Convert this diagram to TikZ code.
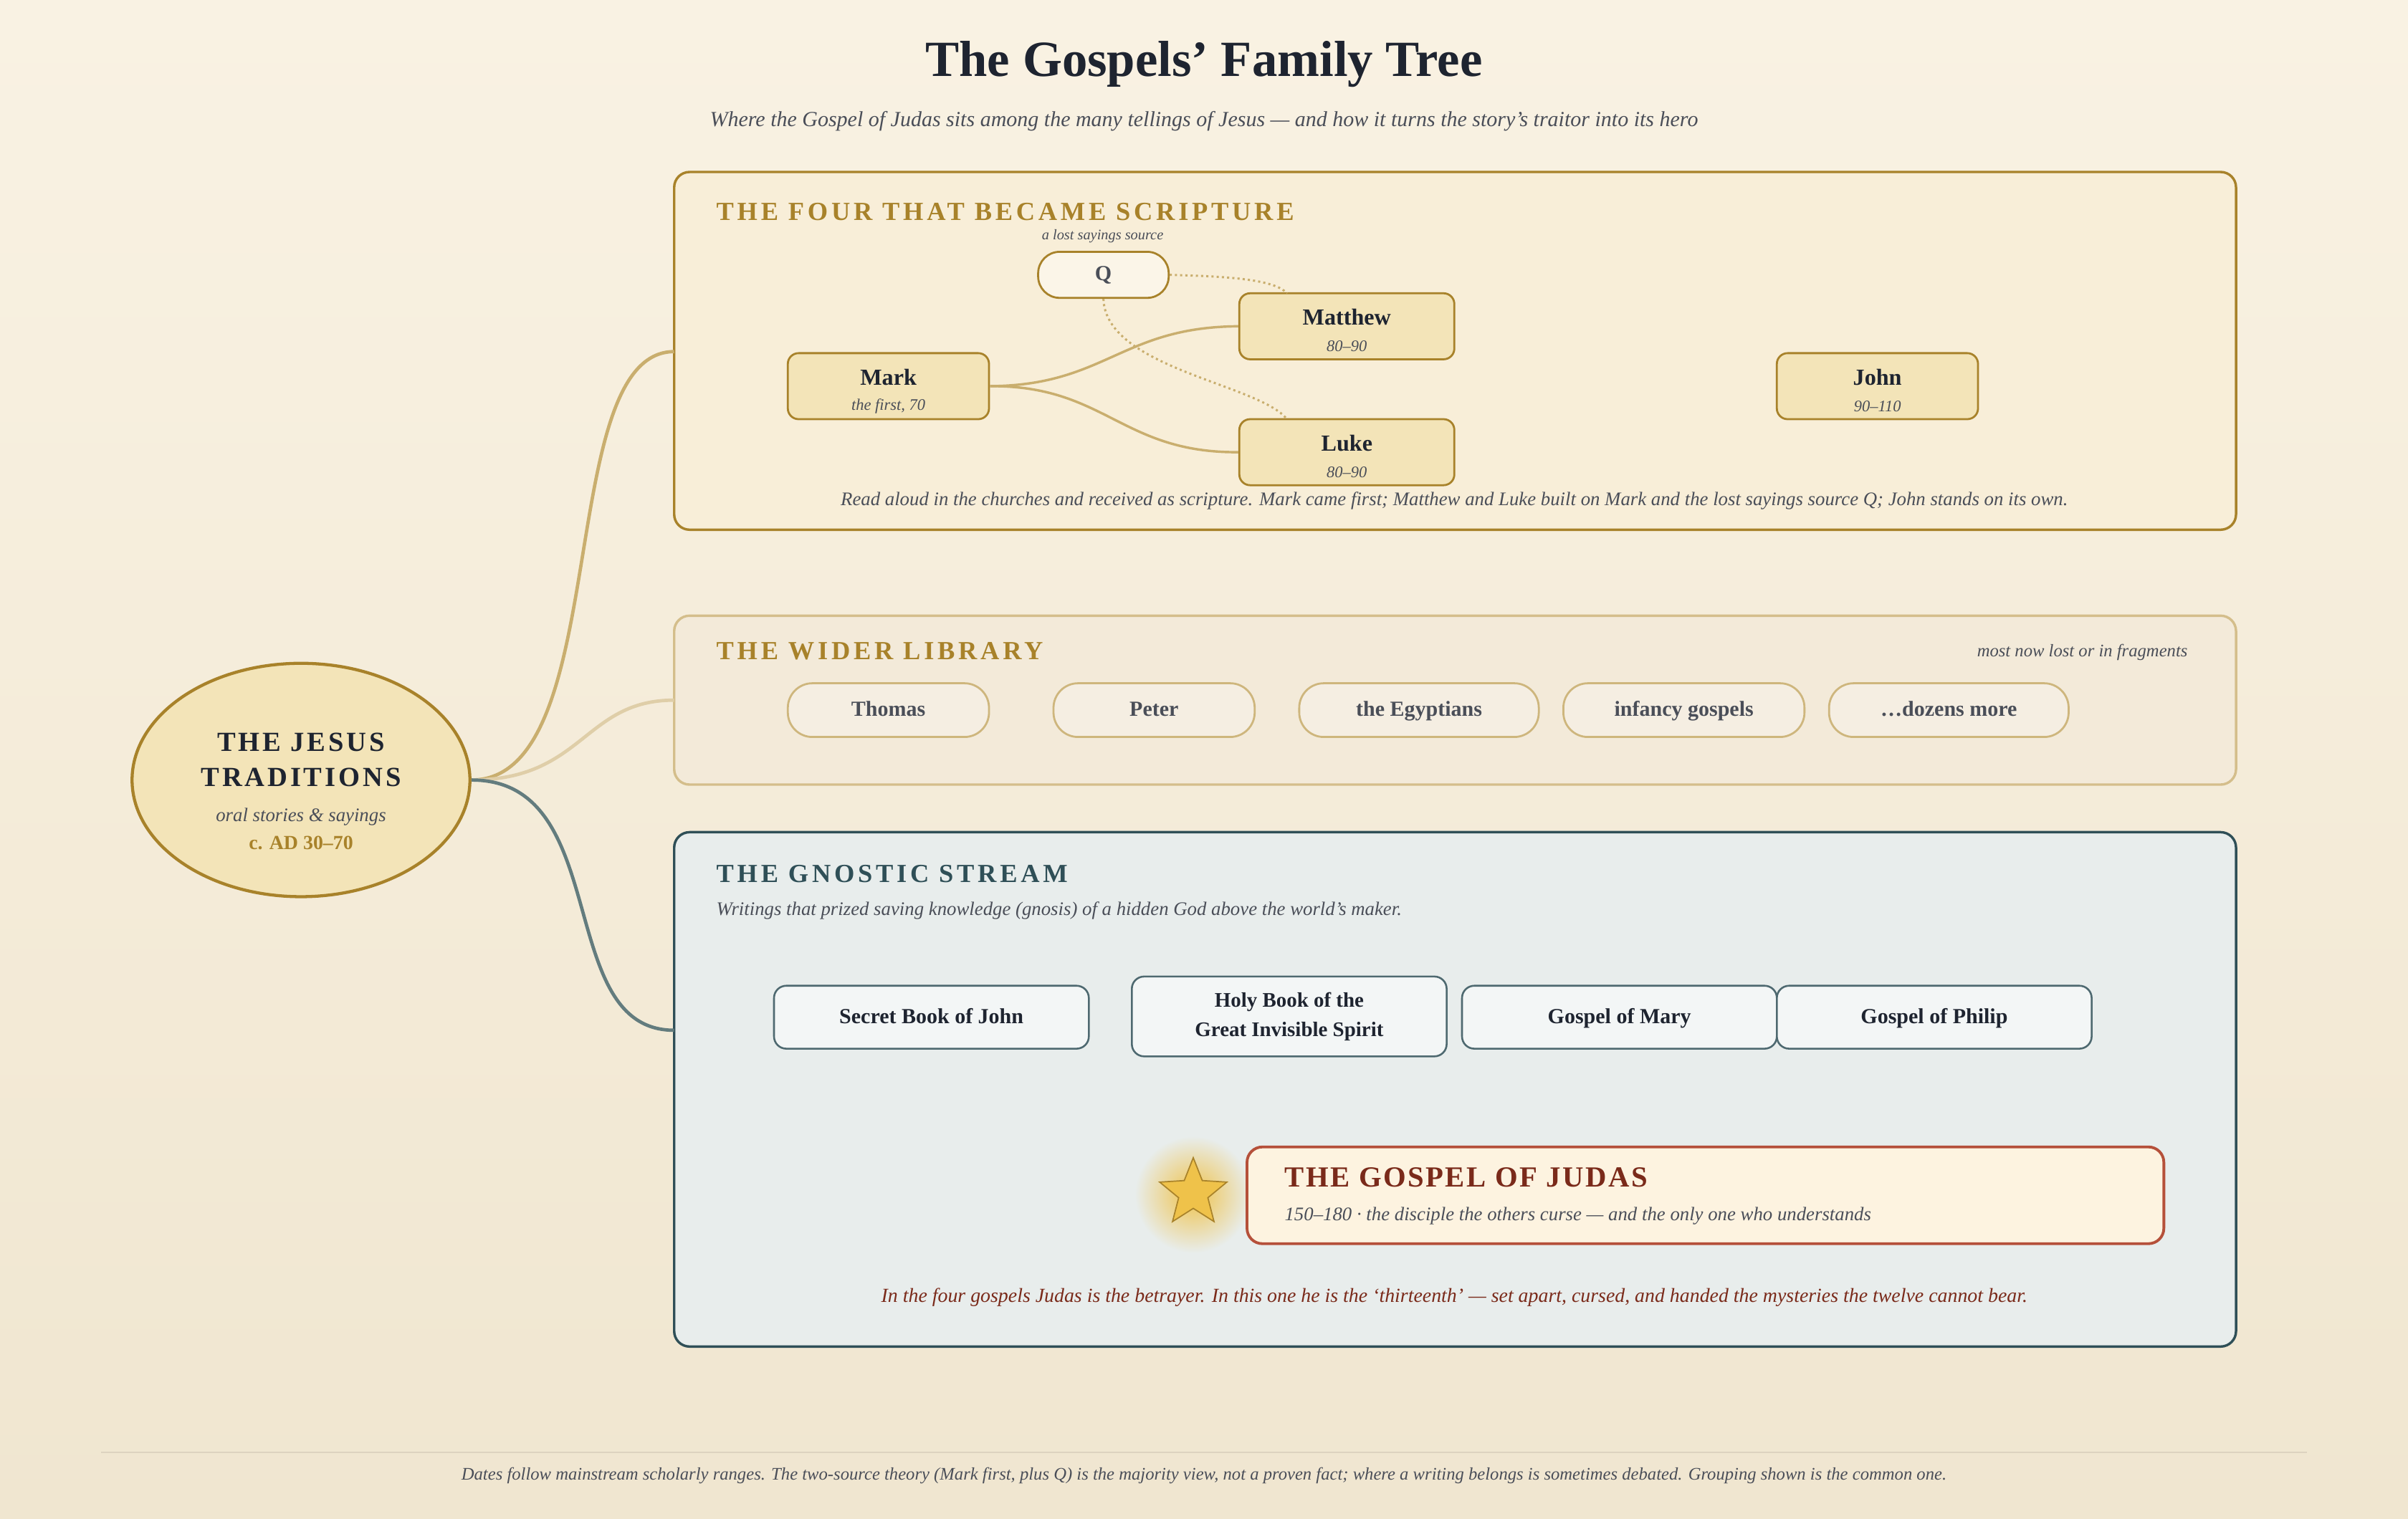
\documentclass[tikz,border=0pt]{standalone}
\usepackage{fontspec}
\setmainfont{Liberation Serif}
\usetikzlibrary{shapes.geometric,shadings}
\definecolor{gold}{HTML}{A8822A}
\definecolor{goldl}{HTML}{C9AE6E}
\definecolor{ink}{HTML}{1E2430}
\definecolor{teal}{HTML}{2F4F57}
\definecolor{slate}{HTML}{637C7E}
\definecolor{rust}{HTML}{B5503A}
\definecolor{wine}{HTML}{7A2A1A}
\definecolor{grey}{HTML}{4A4E58}
\definecolor{HTML-F3E4B8}{HTML}{F3E4B8}
\definecolor{HTML-F5EEE2}{HTML}{F5EEE2}
\definecolor{HTML-F3F6F6}{HTML}{F3F6F6}
\definecolor{HTML-F9EFD9}{HTML}{F8EED8}
\definecolor{HTML-F3EAD9}{HTML}{F3EAD9}
\definecolor{HTML-E8EDEC}{HTML}{E8EDEC}
\definecolor{HTML-F0C850}{HTML}{EFC24A}
\definecolor{HTML-FDF3E0}{HTML}{FDF3E0}
\definecolor{HTML-DDD3C0}{HTML}{DDD3C0}
\definecolor{bgtop}{HTML}{F9F2E3}
\definecolor{bgbot}{HTML}{F0E6D0}
\tikzset{
 x=1pt,y=-1pt,
 box/.style={draw,rounded corners=10pt,line width=1.6pt},
 goldnode/.style={draw=gold,fill=HTML-F3E4B8,rounded corners=7pt,line width=1.3pt,align=center},
 one/.style={text height=1.7ex,text depth=0ex},
 pill/.style={draw=goldl!90!white,fill=HTML-F5EEE2,rounded corners=16pt,line width=1.3pt,font=\fontsize{14}{16}\selectfont\bfseries,text=grey,one},
 gnode/.style={draw=teal!85,fill=HTML-F3F6F6,rounded corners=8pt,line width=1.2pt,font=\fontsize{14}{16}\selectfont\bfseries,text=ink,align=center},
 head/.style={anchor=west,font=\fontsize{17}{19}\selectfont\bfseries\addfontfeatures{LetterSpace=13}},
 note/.style={font=\fontsize{12.5}{14}\selectfont\itshape,text=grey},
}
\begin{document}
\begin{tikzpicture}
\shade[top color=bgtop,bottom color=bgbot] (0,0) rectangle (1568,989);
\useasboundingbox (0,0) rectangle (1568,989);
\node[font=\fontsize{33}{38}\selectfont\bfseries,text=ink] (title) at (784,42) {The Gospels' Family Tree};
\node[note,font=\fontsize{14}{16}\selectfont\itshape] (sub) at (784,79) {Where the Gospel of Judas sits among the many tellings of Jesus — and how it turns the story's traitor into its hero};
% box 1
\draw[box,draw=gold,fill=HTML-F9EFD9] (439,112) rectangle (1456,345);
\node[head,text=gold] (h1) at (463,138) {THE FOUR THAT BECAME SCRIPTURE};
\node[note,font=\fontsize{9.5}{11}\selectfont\itshape] (qlab) at (718,154) {a lost sayings source};
\node[draw=gold,fill=HTML-F9EFD9!60!white,rounded corners=14pt,line width=1.3pt,minimum width=85pt,minimum height=30pt,font=\fontsize{14}{16}\selectfont\bfseries,text=grey,one] (Q) at (718.5,179) {Q};
\node[goldnode,minimum width=140pt,minimum height=43pt] (matt) at (877,212.5) {};
\node[goldnode,minimum width=131pt,minimum height=43pt] (mark) at (578.5,251.5) {};
\node[goldnode,minimum width=140pt,minimum height=43pt] (luke) at (877,294.5) {};
\node[goldnode,minimum width=131pt,minimum height=43pt] (john) at (1222.5,251.5) {};
\foreach \n/\t/\s in {matt/Matthew/80–90,mark/Mark/{the first, 70},luke/Luke/80–90,john/John/90–110}{
 \node[font=\fontsize{15}{17}\selectfont\bfseries,text=ink] at ([yshift=6]\n.center) {\t};
 \node[font=\fontsize{10.5}{12}\selectfont\itshape,text=grey] at ([yshift=-13]\n.center) {\s};
}
\coordinate (mt) at (838,191);
\coordinate (lt) at (838,273);
\draw[goldl,line width=1.6pt] (mark.east) .. controls (720,251) and (730,213) .. (matt.west);
\draw[goldl,line width=1.6pt] (mark.east) .. controls (720,251) and (730,295) .. (luke.west);
\draw[goldl,dotted,line width=1.4pt] (Q.east) .. controls (800,180) and (830,182) .. (mt);
\draw[goldl,dotted,line width=1.4pt] (Q.south) .. controls (720,240) and (820,250) .. (lt);
\node[note] (n1) at (947,326) {Read aloud in the churches and received as scripture. Mark came first; Matthew and Luke built on Mark and the lost sayings source Q; John stands on its own.};
% box 2
\draw[box,draw=goldl!80!white,fill=HTML-F3EAD9] (439,401) rectangle (1456,511);
\node[head,text=gold] (h2) at (463,424) {THE WIDER LIBRARY};
\node[note,anchor=east,font=\fontsize{11.5}{13}\selectfont\itshape] (lost) at (1428,425) {most now lost or in fragments};
\node[pill,minimum width=131pt,minimum height=35pt] (p1) at (578.5,462.5) {Thomas};
\node[pill,minimum width=131pt,minimum height=35pt] (p2) at (751.5,462.5) {Peter};
\node[pill,minimum width=156pt,minimum height=35pt] (p3) at (924,462.5) {the Egyptians};
\node[pill,minimum width=157pt,minimum height=35pt] (p4) at (1096.5,462.5) {infancy gospels};
\node[pill,minimum width=156pt,minimum height=35pt] (p5) at (1269,462.5) {…dozens more};
% box 3
\draw[box,draw=teal,fill=HTML-E8EDEC] (439,542) rectangle (1456,877);
\node[head,text=teal] (h3) at (463,569) {THE GNOSTIC STREAM};
\node[note,anchor=west] (gs) at (463,593) {Writings that prized saving knowledge (gnosis) of a hidden God above the world's maker.};
\node[gnode,minimum width=205pt,minimum height=41pt,one] (g1) at (606.5,662.5) {Secret Book of John};
\node[gnode,minimum width=205pt,minimum height=52pt,font=\fontsize{13.5}{19}\selectfont\bfseries] (g2) at (839.5,662) {Holy Book of the\\Great Invisible Spirit};
\node[gnode,minimum width=205pt,minimum height=41pt,one] (g3) at (1054.5,662.5) {Gospel of Mary};
\node[gnode,minimum width=205pt,minimum height=41pt,one] (g4) at (1259.5,662.5) {Gospel of Philip};
% star glow
\shade[inner color=HTML-F0C850,outer color=HTML-E8EDEC] (777,778) circle (38);
\node[star,star points=5,star point ratio=2.3,draw=gold,fill=HTML-F0C850,minimum size=46pt,inner sep=0pt,line width=0.8pt] (star) at (777,777) {};
\draw[draw=rust,fill=HTML-FDF3E0,rounded corners=10pt,line width=1.8pt] (812,747) rectangle (1409,810);
\node[anchor=west,font=\fontsize{19}{21}\selectfont\bfseries\addfontfeatures{LetterSpace=6},text=wine] (jud) at (833,767) {THE GOSPEL OF JUDAS};
\node[note,anchor=west] (jsub) at (833,792) {150–180 · the disciple the others curse — and the only one who understands};
\node[note,text=wine,font=\fontsize{13}{15}\selectfont\itshape] (bt) at (947,845) {In the four gospels Judas is the betrayer. In this one he is the ‘thirteenth’ — set apart, cursed, and handed the mysteries the twelve cannot bear.};
% root
\node[ellipse,draw=gold,fill=HTML-F3E4B8,line width=2pt,minimum width=220pt,minimum height=152pt] (root) at (196,508) {};
\node[font=\fontsize{18}{23}\selectfont\bfseries\addfontfeatures{LetterSpace=10},text=ink,align=center] (rt) at (196,495) {THE JESUS\\TRADITIONS};
\node[note] (r2) at (196,532) {oral stories \& sayings};
\node[font=\fontsize{13}{15}\selectfont\bfseries,text=gold] (r3) at (196,549) {c. AD 30–70};
\coordinate (c1) at (439,229);
\coordinate (c2) at (439,456);
\coordinate (c3) at (439,671);
\draw[goldl,line width=2.2pt] (root.east) .. controls (400,508) and (360,229) .. (c1);
\draw[goldl!60!white,line width=2.2pt] (root.east) .. controls (380,508) and (380,456) .. (c2);
\draw[slate,line width=2.2pt] (root.east) .. controls (400,508) and (360,671) .. (c3);
\coordinate (l1) at (66,946);
\coordinate (l2) at (1502,946);
\draw[HTML-DDD3C0,line width=0.8pt] (l1) -- (l2);
\node[note,font=\fontsize{11.5}{13}\selectfont\itshape] (foot) at (784,961) {Dates follow mainstream scholarly ranges. The two-source theory (Mark first, plus Q) is the majority view, not a proven fact; where a writing belongs is sometimes debated. Grouping shown is the common one.};
\end{tikzpicture}
\end{document}
